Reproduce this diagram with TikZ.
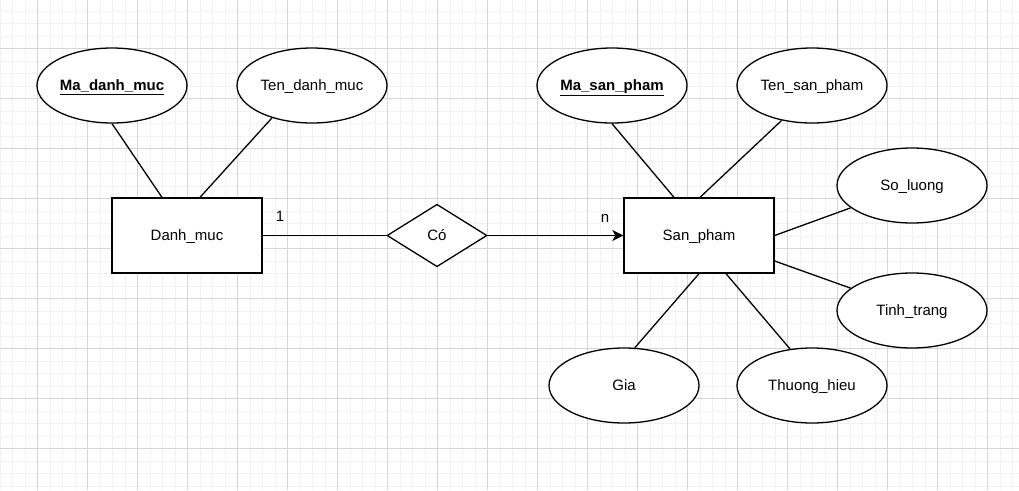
\documentclass[tikz,border=0pt]{standalone}
\usepackage{fontspec}
\setmainfont{Liberation Sans}
\usetikzlibrary{shapes.geometric,arrows.meta}
\tikzset{
  every node/.style={font=\fontsize{15pt}{18pt}\selectfont, text=black, text height=10.7pt, text depth=0pt},
  attr/.style={draw=black, line width=1.3pt, ellipse, fill=white, minimum width=150pt, minimum height=75pt, inner sep=0pt},
  entity/.style={draw=black, line width=1.3pt, rectangle, fill=white, minimum width=150pt, minimum height=75pt, inner sep=0pt},
  rel/.style={draw=black, line width=1.3pt, diamond, fill=white, minimum width=100pt, minimum height=62.5pt, inner sep=0pt},
  conn/.style={draw=black, line width=1.3pt},
  minorgrid/.style={draw=black!5, line width=0.8pt},
  majorgrid/.style={draw=black!16, line width=0.8pt},
  lbl/.style={inner sep=0pt}
}
\begin{document}
\begin{tikzpicture}[x=1pt,y=-1pt]
\useasboundingbox (0,0) rectangle (1019,490);
\fill[white] (0,0) rectangle (1019,490);
% grid
\foreach \i in {0,...,82} {
  \pgfmathsetmacro{\xx}{12.5*\i}
  \draw[minorgrid] (\xx,0) -- (\xx,490);
}
\foreach \i in {0,...,40} {
  \pgfmathsetmacro{\yy}{12.5*\i-1.5}
  \draw[minorgrid] (0,\yy) -- (1019,\yy);
}
\foreach \i in {0,...,20} {
  \pgfmathsetmacro{\xx}{37.5+50*\i}
  \draw[majorgrid] (\xx,0) -- (\xx,490);
}
\foreach \i in {0,...,10} {
  \pgfmathsetmacro{\yy}{-1.5+50*\i}
  \draw[majorgrid] (0,\yy) -- (1019,\yy);
}
% nodes
\node[attr] (mdm) at (112,85.5) {\underline{\textbf{Ma\_danh\_muc}}};
\node[attr] (tdm) at (312,85.5) {Ten\_danh\_muc};
\node[attr] (msp) at (612,85.5) {\underline{\textbf{Ma\_san\_pham}}};
\node[attr] (tsp) at (812,85.5) {Ten\_san\_pham};
\node[attr] (sl) at (912,185.5) {So\_luong};
\node[attr] (tt) at (912,310.5) {Tinh\_trang};
\node[attr] (gia) at (624,385.5) {Gia};
\node[attr] (th) at (812,385.5) {Thuong\_hieu};
\node[entity] (dm) at (187,235.5) {Danh\_muc};
\node[entity] (sp) at (699,235.5) {San\_pham};
\node[rel] (co) at (437,235.5) {Có};
% connectors
\draw[conn] (mdm.south) -- ([xshift=-25pt]dm.north);
\draw[conn] (tdm.219) -- ([xshift=13pt]dm.north);
\draw[conn] (msp.south) -- ([xshift=-25pt]sp.north);
\draw[conn] (tsp.229) -- ([xshift=1pt]sp.north);
\draw[conn] (sp.east) -- (sl.200.7);
\draw[conn] ([yshift=-25.5pt]sp.east) -- (tt.160.4);
\draw[conn] (sp.south) -- (gia.74.7);
\draw[conn] ([xshift=27pt]sp.south) -- (th.121.1);
\draw[conn] (dm.east) -- (co.west);
\draw[conn, -{Stealth[length=11pt,width=11pt,inset=3pt]}] (co.east) -- (sp.west);
% labels
\node[lbl] (l1) at (280,216.5) {1};
\node[lbl] (ln) at (605,217) {n};
\end{tikzpicture}
\end{document}
